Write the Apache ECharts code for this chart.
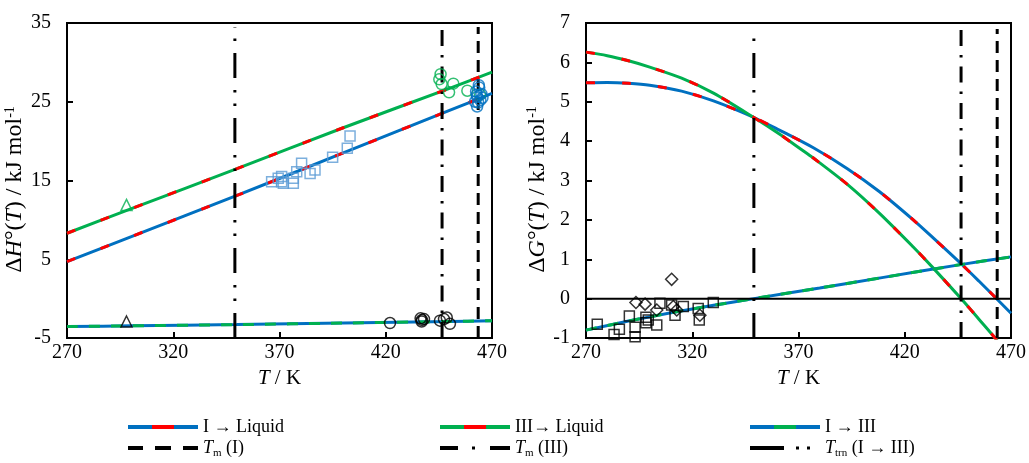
<!DOCTYPE html>
<html>
<head>
<meta charset="utf-8">
<script src="https://cdn.jsdelivr.net/npm/echarts@6/dist/echarts.min.js"></script>
<style>
html,body{margin:0;padding:0;background:#fff;}
#chart{width:1029px;height:463px;}
</style>
</head>
<body>
<div id="chart"></div>
<script>
// ---------- data ----------
const xTicks = [270, 320, 370, 420, 470];
const hTicks = [-5, 5, 15, 25, 35];
const gTicks = [-1, 0, 1, 2, 3, 4, 5, 6, 7];

// Left panel: enthalpy (kJ/mol)
const hT       = [270, 300, 350, 400, 450, 470];
const hILiq    = [4.7, 7.85, 13.1, 18.5, 23.9, 26.05];
const hIIILiq  = [8.3, 11.4, 16.5, 21.7, 26.7, 28.75];
const hIIII    = [-3.55, -3.45, -3.3, -3.1, -2.9, -2.8];

const hSquaresBlue = [[366.3,14.85],[369.4,15.28],[371,15.5],[371,14.85],[371.8,14.64],[376.5,15.28],[376.5,14.64],[378.1,16.12],[380.4,17.19],[384.4,15.9],[386.7,16.33],[395,17.95],[401.9,19.1],[403.2,20.65]];
const hCirclesGreen = [[445.8,28.5],[445.2,27.85],[446.3,27.25],[449.8,26.2],[451.8,27.3],[458.4,26.4],[464.4,25.9]];
const hCirclesBlue = [[462.5,26.3],[463,25.6],[463.5,24.9],[463,24.4],[464,26.8],[464.5,25.2],[465,26.0],[462,25.0],[463.8,27.1],[465.5,25.5],[462.8,25.9]];
const hCirclesBlack = [[422,-3.1],[436.4,-2.5],[436.9,-2.9],[438,-2.6],[437,-2.7],[445.5,-2.8],[447.4,-2.6],[448.7,-2.4],[450.2,-3.2]];
const hTriGreen = [[298,11.9]];
const hTriBlack = [[298,-2.9]];

// Right panel: Gibbs energy (kJ/mol)
const gT1      = [270, 280, 290, 300, 315, 330, 349, 361, 377, 393, 408, 424, 433, 447, 455, 463, 470];
const gILiq    = [5.48, 5.49, 5.47, 5.42, 5.27, 5.02, 4.6, 4.28, 3.83, 3.3, 2.72, 2.0, 1.56, 0.86, 0.44, 0.01, -0.37];
const gT2      = [270, 280, 290, 300, 315, 330, 349, 361, 371, 377, 393, 408, 424, 433, 447, 455, 462.5, 465];
const gIIILiq  = [6.26, 6.17, 6.04, 5.88, 5.6, 5.22, 4.6, 4.18, 3.8, 3.57, 2.9, 2.17, 1.31, 0.8, -0.03, -0.53, -1.0, -1.17];
const gT3      = [270, 290, 310, 330, 349, 380, 410, 447, 470];
const gIIII    = [-0.8, -0.57, -0.36, -0.17, 0, 0.27, 0.54, 0.87, 1.06];

const gSquares = [[275.3,-0.65],[283.2,-0.91],[285.7,-0.78],[290.4,-0.44],[293.1,-0.73],[293.1,-0.97],[298.2,-0.47],[298.2,-0.61],[299.3,-0.54],[303.3,-0.67],[304.8,-0.12],[310.3,-0.16],[311.9,-0.42],[315.8,-0.2],[322.8,-0.25],[323.3,-0.54],[329.9,-0.1]];
const gDiamonds = [[293.5,-0.1],[297.8,-0.14],[303.3,-0.29],[310.3,0.49],[311.1,-0.2],[312.7,-0.29],[323.6,-0.42]];

// Transition temperatures (K)
const TmI = 463.5, TmIII = 446.5, Ttrn = 349;
const hVRange = [-5, 34.5];
const gVRange = [-1, 6.85];
const xRange = [270, 470];

// ---------- helpers ----------
const BLUE = '#0070C0', RED = '#FF0000', GREEN = '#00B050', LBLUE = '#5B9BD5';
const FONT = 'Liberation Serif';
const zip = (xs, ys) => xs.map((x, i) => [x, ys[i]]);

function svgIcon(inner, w, h) {
  const s = '<svg xmlns="http://www.w3.org/2000/svg" width="' + w + '" height="' + h + '" viewBox="0 0 ' + w + ' ' + h + '" preserveAspectRatio="none">' + inner + '</svg>';
  return 'image://data:image/svg+xml;charset=utf-8,' + encodeURIComponent(s);
}
const tri = (a, b) => svgIcon('<rect x="0" y="0" width="24" height="4" fill="' + a + '"/><rect x="24" y="0" width="22" height="4" fill="' + b + '"/><rect x="46" y="0" width="24" height="4" fill="' + a + '"/>', 70, 4);
const iconTmI = svgIcon('<rect x="0" y="0" width="15" height="4" fill="#000"/><rect x="27" y="0" width="16" height="4" fill="#000"/><rect x="55" y="0" width="15" height="4" fill="#000"/>', 70, 4);
const iconTmIII = svgIcon('<rect x="0" y="0" width="18" height="4" fill="#000"/><rect x="32" y="0.5" width="3" height="3" fill="#000"/><rect x="50" y="0" width="20" height="4" fill="#000"/>', 70, 4);
const iconTtrn = svgIcon('<rect x="0" y="0" width="34" height="4" fill="#000"/><rect x="46" y="0.5" width="3" height="3" fill="#000"/><rect x="57" y="0.5" width="3" height="3" fill="#000"/>', 70, 4);

const DASH_TmI = [12, 7];
const DASH_TmIII = [16, 9, 2.5, 9];
const DASH_Ttrn = [25, 12, 2.5, 11, 2.5, 12];

function curve(name, idx, data, base, over, dash) {
  return [
    { name: name, type: 'line', xAxisIndex: idx, yAxisIndex: idx, data: data, smooth: 0.3, showSymbol: false, symbol: 'none',
      lineStyle: { color: base, width: 3 }, itemStyle: { color: base }, z: 2, silent: true },
    { name: name + '_d', type: 'line', xAxisIndex: idx, yAxisIndex: idx, data: data, smooth: 0.3, showSymbol: false, symbol: 'none',
      lineStyle: { color: over, width: 3, type: dash, cap: 'butt' }, z: 3, silent: true }
  ];
}
function vline(name, idx, x, range, dash) {
  return { name: name, type: 'line', xAxisIndex: idx, yAxisIndex: idx, data: [[x, range[0]], [x, range[1]]], showSymbol: false, symbol: 'none',
    lineStyle: { color: '#000', width: 3, type: dash, cap: 'butt' }, itemStyle: { color: '#000' }, z: 4, silent: true };
}
function scatter(idx, data, symbol, color, size) {
  return { type: 'scatter', xAxisIndex: idx, yAxisIndex: idx, data: data, symbol: symbol, symbolSize: size || 10,
    itemStyle: { color: 'rgba(0,0,0,0)', borderColor: color, borderWidth: 1.5 }, z: 5, silent: true };
}

const axisText = { fontFamily: FONT, fontSize: 20, color: '#000' };
const NAMESZ = 24;
const rich = {
  r: { fontFamily: FONT, fontSize: NAMESZ, color: '#000' },
  i: { fontFamily: FONT, fontSize: NAMESZ, color: '#000', fontStyle: 'italic' },
  sup: { fontFamily: FONT, fontSize: 14, color: '#000', verticalAlign: 'top', lineHeight: 16 }
};
const xrich = {
  r: { fontFamily: FONT, fontSize: 21, color: '#000' },
  i: { fontFamily: FONT, fontSize: 21, color: '#000', fontStyle: 'italic' }
};

function xAxis(idx) {
  return {
    type: 'value', gridIndex: idx, min: xRange[0], max: xRange[1],
    name: '{i|T}{r| / K}', nameLocation: 'middle', nameGap: 19, nameTextStyle: { rich: xrich },
    axisLine: { show: true, onZero: false, lineStyle: { color: '#000', width: 2 } },
    axisTick: { show: true, inside: true, length: 6, lineStyle: { color: '#000', width: 2 }, customValues: xTicks },
    axisLabel: Object.assign({ margin: 5, customValues: xTicks }, axisText),
    splitLine: { show: false }
  };
}
function yAxis(idx, ticks, nameStr, gap) {
  return {
    type: 'value', gridIndex: idx, min: ticks[0], max: ticks[ticks.length - 1],
    name: nameStr, nameLocation: 'middle', nameRotate: 90, nameGap: gap,
    nameTextStyle: { rich: rich, padding: [0, 18, 0, 0] },
    axisLine: { show: true, onZero: false, lineStyle: { color: '#000', width: 2 } },
    axisTick: { show: true, inside: true, length: 6, lineStyle: { color: '#000', width: 2 }, customValues: ticks },
    axisLabel: Object.assign({ margin: 16, customValues: ticks }, axisText),
    splitLine: { show: false }
  };
}

const LS = 18;
const legendText = { fontFamily: FONT, fontSize: LS, color: '#000',
  rich: { r: { fontFamily: FONT, fontSize: LS, color: '#000' },
          i: { fontFamily: FONT, fontSize: LS, color: '#000', fontStyle: 'italic' },
          sub: { fontFamily: FONT, fontSize: 11, color: '#000', verticalAlign: 'bottom', lineHeight: 22 } } };
function legend(name, icon, left, top, fmt) {
  return { data: [{ name: name, icon: icon }], left: left, top: top, itemWidth: 70, itemHeight: 4, itemGap: 0,
    textStyle: legendText, formatter: fmt ? (() => fmt) : undefined, selectedMode: false, padding: 0 };
}

const series = [].concat(
  curve('I → Liquid', 0, zip(hT, hILiq), BLUE, RED, [9, 27]),
  curve('III→ Liquid', 0, zip(hT, hIIILiq), GREEN, RED, [9, 27]),
  curve('I → III', 0, zip(hT, hIIII), BLUE, GREEN, [11, 11]),
  curve('I → Liquid', 1, zip(gT1, gILiq), BLUE, RED, [9, 27]),
  curve('III→ Liquid', 1, zip(gT2, gIIILiq), GREEN, RED, [9, 27]),
  curve('I → III', 1, zip(gT3, gIIII), BLUE, GREEN, [11, 11]),
  [
    { type: 'line', xAxisIndex: 1, yAxisIndex: 1, data: [[xRange[0], 0], [xRange[1], 0]], showSymbol: false, symbol: 'none',
      lineStyle: { color: '#000', width: 2 }, z: 3, silent: true },
    vline('Tm(I)', 0, TmI, hVRange, DASH_TmI),
    vline('Tm(III)', 0, TmIII, hVRange, DASH_TmIII),
    vline('Ttrn', 0, Ttrn, hVRange, DASH_Ttrn),
    vline('Tm(I)', 1, TmI, gVRange, DASH_TmI),
    vline('Tm(III)', 1, TmIII, gVRange, DASH_TmIII),
    vline('Ttrn', 1, Ttrn, gVRange, DASH_Ttrn),
    scatter(0, hSquaresBlue, 'rect', LBLUE, 10),
    scatter(0, hCirclesGreen, 'circle', GREEN, 11),
    scatter(0, hCirclesBlue, 'circle', BLUE, 11),
    scatter(0, hCirclesBlack, 'circle', '#000', 11),
    scatter(0, hTriGreen, 'triangle', GREEN, 11),
    scatter(0, hTriBlack, 'triangle', '#000', 11),
    scatter(1, gSquares, 'rect', '#000', 10),
    scatter(1, gDiamonds, 'diamond', '#000', 12)
  ]
);

const option = {
  backgroundColor: '#fff',
  animation: false,
  grid: [
    { left: 67, top: 23, width: 425, height: 315, show: true, borderColor: '#000', borderWidth: 2, backgroundColor: 'transparent' },
    { left: 586, top: 23, width: 425, height: 315, show: true, borderColor: '#000', borderWidth: 2, backgroundColor: 'transparent' }
  ],
  xAxis: [xAxis(0), xAxis(1)],
  yAxis: [
    yAxis(0, hTicks, '{r|Δ}{i|H}{r|°(}{i|T}{r|) / kJ mol}{sup|-1}', 32),
    yAxis(1, gTicks, '{r|Δ}{i|G}{r|°(}{i|T}{r|) / kJ mol}{sup|-1}', 32)
  ],
  legend: [
    legend('I → Liquid', tri(BLUE, RED), 128, 418),
    legend('III→ Liquid', tri(GREEN, RED), 440, 418),
    legend('I → III', tri(BLUE, GREEN), 750, 418),
    legend('Tm(I)', iconTmI, 128, 439, '{i|T}{sub|m}{r| (I)}'),
    legend('Tm(III)', iconTmIII, 440, 439, '{i|T}{sub|m}{r| (III)}'),
    legend('Ttrn', iconTtrn, 750, 439, '{i|T}{sub|trn}{r| (I → III)}')
  ],
  series: series
};

const chart = echarts.init(document.getElementById('chart'), null, { renderer: 'canvas' });
chart.setOption(option);
</script>
</body>
</html>
